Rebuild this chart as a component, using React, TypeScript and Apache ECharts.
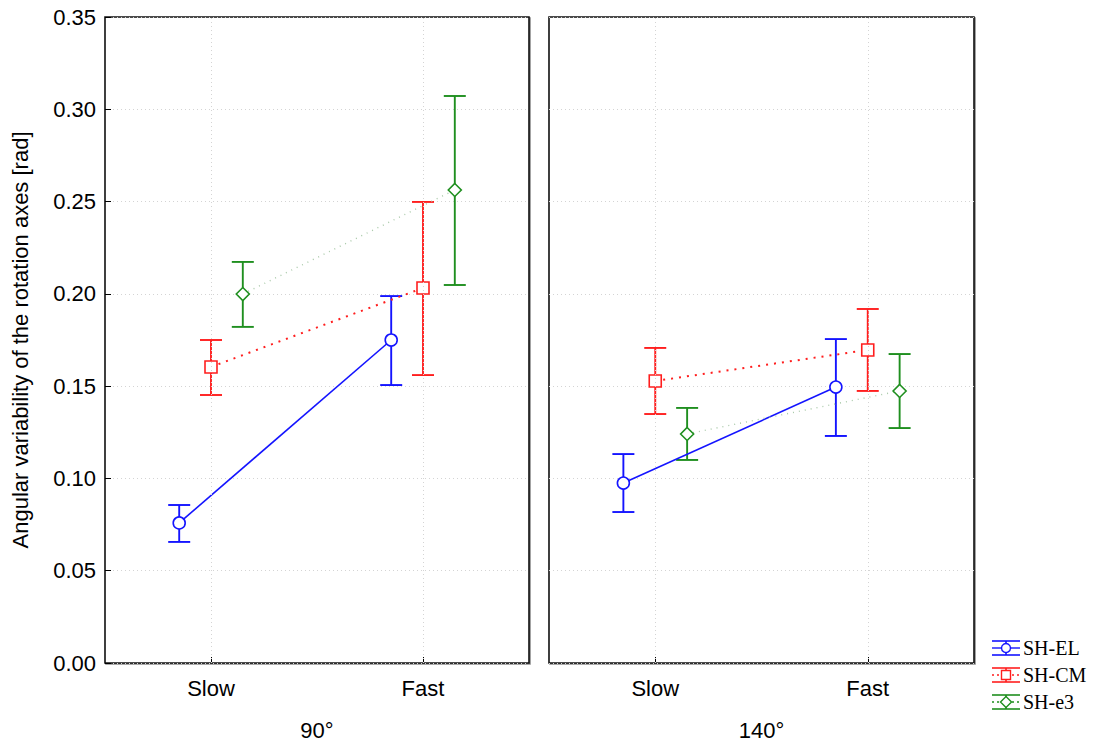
import React, { useEffect, useRef } from "react";
import * as echarts from "echarts";

const categories = ["Slow", "Fast"];
const panelTitles = ["90°", "140°"];
const seriesNames = ["SH-EL", "SH-CM", "SH-e3"];

// panel 90°
const el90Mean = [0.0759, 0.175];
const el90Lo = [0.0656, 0.1506];
const el90Hi = [0.0856, 0.1988];
const cm90Mean = [0.1604, 0.2032];
const cm90Lo = [0.1452, 0.156];
const cm90Hi = [0.175, 0.2498];
const e390Mean = [0.1999, 0.2563];
const e390Lo = [0.1821, 0.2048];
const e390Hi = [0.2173, 0.3072];
// panel 140°
const el140Mean = [0.0975, 0.1495];
const el140Lo = [0.0818, 0.123];
const el140Hi = [0.1132, 0.1755];
const cm140Mean = [0.1528, 0.1696];
const cm140Lo = [0.1349, 0.1474];
const cm140Hi = [0.1707, 0.1918];
const e3140Mean = [0.1241, 0.1474];
const e3140Lo = [0.11, 0.1273];
const e3140Hi = [0.1382, 0.1674];

const COLORS = ["#1414ff", "#ff1e1e", "#1f8f1f"];
const LINE_COLORS = ["#1414ff", "#ff1e1e", "#a9c9a9"];
const LINE_TYPES: any[] = ["solid", [2, 6], [1, 5]];
const LINE_WIDTHS = [1.6, 2, 1.4];
const SYMBOLS = ["circle", "rect", "diamond"];
const SYMBOL_SIZES = [12, 12, 13];

const panelData = [
  [
    { mean: el90Mean, lo: el90Lo, hi: el90Hi },
    { mean: cm90Mean, lo: cm90Lo, hi: cm90Hi },
    { mean: e390Mean, lo: e390Lo, hi: e390Hi },
  ],
  [
    { mean: el140Mean, lo: el140Lo, hi: el140Hi },
    { mean: cm140Mean, lo: cm140Lo, hi: cm140Hi },
    { mean: e3140Mean, lo: e3140Lo, hi: e3140Hi },
  ],
];

const catPos = [1, 3]; // positions of categories on 0..4 value axis
const dodge = [-0.3, 0, 0.3];
const FONT = "Liberation Sans, Arial, sans-serif";
const FS = 22;

export default function App() {
  const ref = useRef<HTMLDivElement>(null);
  useEffect(() => {
    const chart = echarts.init(ref.current!, null, { renderer: "svg" });
    const grids = [
      { left: 105, top: 17, width: 424, height: 646 },
      { left: 549, top: 17, width: 425, height: 646 },
    ].map((g) => ({
      ...g,
      show: true,
      borderColor: "#111",
      borderWidth: 1.6,
      backgroundColor: "#fff",
      shadowColor: "rgba(0,0,0,0.45)",
      shadowOffsetX: 1,
      shadowOffsetY: 1,
      shadowBlur: 0,
    }));

    const xAxes = panelTitles.map((t, i) => ({
      type: "value",
      gridIndex: i,
      min: 0,
      max: 4,
      interval: 1,
      name: t,
      nameLocation: "middle",
      nameGap: 56,
      nameTextStyle: { fontFamily: FONT, fontSize: FS, color: "#000" },
      axisLine: { show: false },
      axisTick: {
        show: true,
        inside: true,
        length: 6,
        customValues: catPos,
        lineStyle: { color: "#000" },
      },
      axisLabel: {
        customValues: catPos,
        formatter: (v: number) => categories[catPos.indexOf(v)] ?? "",
        fontFamily: FONT,
        fontSize: FS,
        color: "#000",
        margin: 14,
      },
      splitLine: { show: false },
    }));

    const yAxes = panelTitles.map((_, i) => ({
      type: "value",
      gridIndex: i,
      min: 0,
      max: 0.35,
      interval: 0.05,
      name: i === 0 ? "Angular variability of the rotation axes [rad]" : "",
      nameLocation: "middle",
      nameGap: 74,
      nameTextStyle: { fontFamily: FONT, fontSize: FS, color: "#000" },
      axisLine: { show: false },
      axisTick: { show: i === 0, inside: true, length: 6, lineStyle: { color: "#000" } },
      axisLabel: {
        show: i === 0,
        formatter: (v: number) => v.toFixed(2),
        fontFamily: FONT,
        fontSize: FS,
        color: "#000",
        margin: 9,
      },
      splitLine: {
        show: true,
        lineStyle: { color: "#d4d4d4", type: [1, 3], width: 1 },
      },
    }));

    const series: any[] = [];
    panelData.forEach((groups, p) => {
      // vertical grid lines
      series.push({
        type: "line",
        xAxisIndex: p,
        yAxisIndex: p,
        data: [],
        silent: true,
        markLine: {
          silent: true,
          symbol: "none",
          label: { show: false },
          lineStyle: { color: "#d4d4d4", type: [1, 3], width: 1 },
          data: catPos.map((c) => ({ xAxis: c })),
          animation: false,
        },
      });
      groups.forEach((g, s) => {
        const errData = categories.map((_, c) => [catPos[c] + dodge[s], g.lo[c], g.hi[c]]);
        series.push({
          type: "custom",
          name: seriesNames[s],
          xAxisIndex: p,
          yAxisIndex: p,
          z: 3,
          data: errData,
          encode: { x: 0, y: [1, 2] },
          renderItem: (params: any, api: any) => {
            const x = api.value(0);
            const lo = api.coord([x, api.value(1)]);
            const hi = api.coord([x, api.value(2)]);
            const w = 11;
            const style = { stroke: COLORS[s], lineWidth: 1.9 };
            return {
              type: "group",
              children: [
                { type: "line", shape: { x1: lo[0], y1: lo[1], x2: hi[0], y2: hi[1] }, style },
                { type: "line", shape: { x1: lo[0] - w, y1: lo[1], x2: lo[0] + w, y2: lo[1] }, style },
                { type: "line", shape: { x1: hi[0] - w, y1: hi[1], x2: hi[0] + w, y2: hi[1] }, style },
              ],
            };
          },
        });
        series.push({
          type: "line",
          name: seriesNames[s],
          xAxisIndex: p,
          yAxisIndex: p,
          z: 4,
          data: categories.map((_, c) => [catPos[c] + dodge[s], g.mean[c]]),
          symbol: SYMBOLS[s],
          symbolSize: SYMBOL_SIZES[s],
          showAllSymbol: true,
          lineStyle: { color: LINE_COLORS[s], type: LINE_TYPES[s], width: LINE_WIDTHS[s] },
          itemStyle: { color: "#fff", borderColor: COLORS[s], borderWidth: 1.6 },
          emphasis: { disabled: true },
        });
      });
    });

    // legend
    const legendGraphics: any[] = [];
    seriesNames.forEach((n, i) => {
      const y = 648 + 27 * i;
      const x1 = 992;
      const x2 = 1020;
      const cx = 1006;
      const st = { stroke: COLORS[i], lineWidth: 1.6 };
      legendGraphics.push(
        { type: "line", shape: { x1, y1: y - 7, x2, y2: y - 7 }, style: st },
        { type: "line", shape: { x1, y1: y + 7, x2, y2: y + 7 }, style: st },
        { type: "line", shape: { x1: cx, y1: y - 7, x2: cx, y2: y + 7 }, style: st },
        {
          type: "line",
          shape: { x1, y1: y, x2, y2: y },
          style: {
            stroke: COLORS[i],
            lineWidth: 1.4,
            lineDash: i === 0 ? null : [2, 3],
          },
        }
      );
      const ms = { fill: "#fff", stroke: COLORS[i], lineWidth: 1.4 };
      if (i === 0) legendGraphics.push({ type: "circle", shape: { cx, cy: y, r: 4.5 }, style: ms });
      if (i === 1) legendGraphics.push({ type: "rect", shape: { x: cx - 4.5, y: y - 4.5, width: 9, height: 9 }, style: ms });
      if (i === 2)
        legendGraphics.push({
          type: "polygon",
          shape: { points: [[cx, y - 5.5], [cx + 5.5, y], [cx, y + 5.5], [cx - 5.5, y]] },
          style: ms,
        });
      legendGraphics.push({
        type: "text",
        x: 1023,
        y,
        style: {
          text: n,
          fill: "#000",
          font: "20px 'Liberation Serif', 'Times New Roman', serif",
          verticalAlign: "middle",
          align: "left",
        },
      });
    });

    chart.setOption({
      animation: false,
      backgroundColor: "#fff",
      grid: grids,
      xAxis: xAxes,
      yAxis: yAxes,
      series,
      graphic: legendGraphics,
    });
    return () => chart.dispose();
  }, []);
  return <div ref={ref} style={{ width: 1096, height: 746, position: "absolute", left: 0, top: 0 }} />;
}
